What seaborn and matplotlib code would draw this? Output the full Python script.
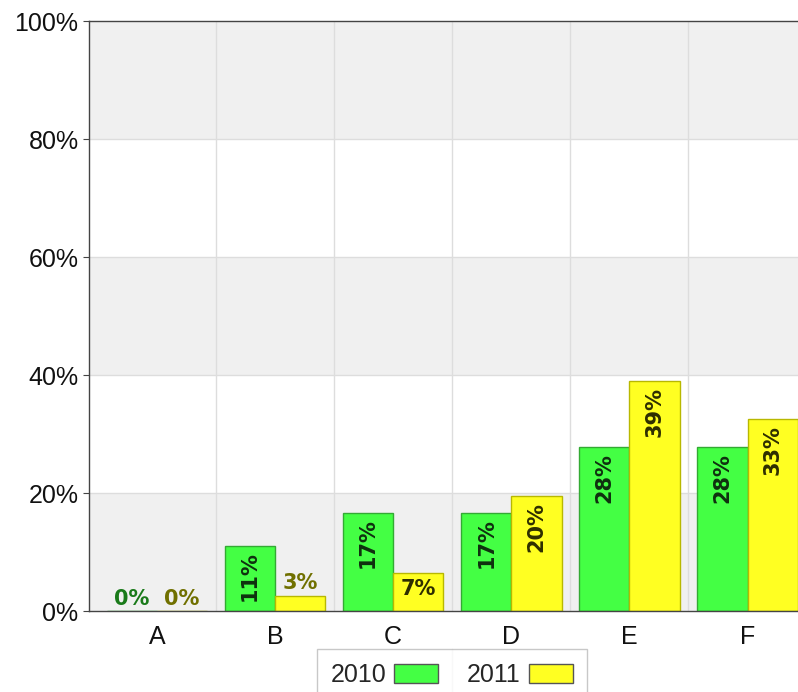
import math
import matplotlib
matplotlib.use('Agg')
import matplotlib.pyplot as plt
from matplotlib.patches import Patch
from matplotlib.lines import Line2D
from matplotlib.ticker import FixedLocator, PercentFormatter
import numpy as np
import pandas as pd
import seaborn as sns

categorias = ['A', 'B', 'C', 'D', 'E', 'F']
anos = ['2010', '2011']
valores_2010 = [0.0, 11.1, 16.7, 16.7, 27.8, 27.8]
valores_2011 = [0.0, 2.6, 6.5, 19.5, 39.0, 32.5]

cores = {'2010': '#44ff44', '2011': '#ffff22'}
bordas = {'2010': '#33aa33', '2011': '#b8b800'}
cor_fora = {'2010': '#1a7a1a', '2011': '#707000'}
cor_dentro = {'2010': '#0f300f', '2011': '#2e2e00'}

df = pd.DataFrame({
    'categoria': categorias * 2,
    'valor': valores_2010 + valores_2011,
    'ano': ['2010'] * len(categorias) + ['2011'] * len(categorias),
})

sns.set_style('white')
plt.rcParams['font.family'] = ['Liberation Sans', 'DejaVu Sans']

fig = plt.figure(figsize=(7.98, 6.92), dpi=100)
ax = fig.add_axes([0.1115, 0.117, 0.888, 0.8526])

# faixas alternadas de fundo
for y0 in [0, 40, 80]:
    ax.axhspan(y0, y0 + 20, color='#f0f0f0', zorder=0, lw=0)
for y in [20, 40, 60, 80]:
    ax.axhline(y, color='#dddddd', lw=1, zorder=0.5)
for x in np.arange(0.5, len(categorias) - 0.5, 1):
    ax.axvline(x, color='#dddddd', lw=1, zorder=0.5)

sns.barplot(data=df, x='categoria', y='valor', hue='ano', order=categorias,
            hue_order=anos, palette=cores, saturation=1, width=0.85, ax=ax,
            legend=False, zorder=2, linewidth=1)

for cont, ano in zip(ax.containers, anos):
    for barra in cont:
        barra.set_edgecolor(bordas[ano])
        h = barra.get_height()
        xc = barra.get_x() + barra.get_width() / 2
        txt = '%d%%' % math.floor(h + 0.5)
        if h >= 10:
            ax.text(xc, h - 1.0, txt, rotation=90, ha='center', va='top',
                    fontsize=15, fontweight='bold', color=cor_dentro[ano],
                    family='DejaVu Sans', zorder=3)
        elif h >= 5:
            ax.text(xc, h - 1.1, txt, ha='center', va='top',
                    fontsize=15, fontweight='bold', color=cor_dentro[ano],
                    family='DejaVu Sans', zorder=3)
        else:
            ax.text(xc, h + 0.4, txt, ha='center', va='bottom',
                    fontsize=15, fontweight='bold', color=cor_fora[ano],
                    family='DejaVu Sans', zorder=3)

ax.set_xlim(-0.576, 5.424)
ax.set_ylim(0, 100)
ax.yaxis.set_major_locator(FixedLocator([0, 20, 40, 60, 80, 100]))
ax.yaxis.set_major_formatter(PercentFormatter(decimals=0))
ax.set_xticks(np.arange(0.5, len(categorias) - 0.5, 1))
ax.set_xticklabels([])
ax.set_xticks(np.arange(len(categorias)), minor=True)
ax.set_xticklabels(categorias, minor=True)
ax.tick_params(axis='x', which='major', length=4, color='#444444', direction='out')
ax.tick_params(axis='x', which='minor', length=0, labelsize=18, pad=10, colors='#111111')
ax.tick_params(axis='y', length=4, color='#444444', labelsize=18, colors='#111111', direction='out', left=True)
ax.set_xlabel('')
ax.set_ylabel('')
for lado in ['left', 'bottom', 'top']:
    ax.spines[lado].set_color('#444444')
    ax.spines[lado].set_linewidth(1)
ax.spines['right'].set_visible(False)

handles = [Patch(facecolor=cores[a], edgecolor='#555555', label=a) for a in anos]
leg = fig.legend(handles=handles, loc='upper center', bbox_to_anchor=(0.566, 0.0621),
                 ncol=2, markerfirst=False, frameon=True, fancybox=False,
                 fontsize=18, handlelength=1.76, handleheight=0.8, columnspacing=1.16,
                 borderpad=0.55, handletextpad=0.32, borderaxespad=0)
leg.get_frame().set_edgecolor('#bbbbbb')
leg.get_frame().set_linewidth(1)
fig.add_artist(Line2D([0.566, 0.566], [0, 0.0621], transform=fig.transFigure,
                      color='#dddddd', lw=1))

fig.savefig('out.png', dpi=100)
